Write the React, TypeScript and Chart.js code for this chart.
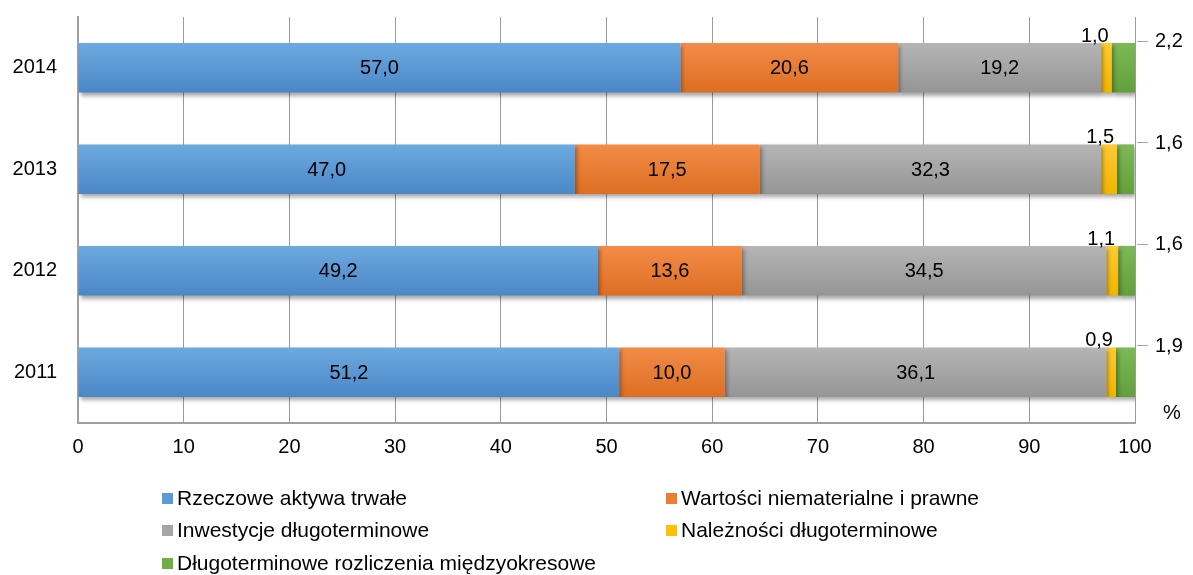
import React, { useEffect, useRef } from "react";
import { Chart, registerables } from "chart.js";

Chart.register(...registerables);

const categories = ["2014", "2013", "2012", "2011"];
const rzeczowe = [57.0, 47.0, 49.2, 51.2];
const wartosci = [20.6, 17.5, 13.6, 10.0];
const inwestycje = [19.2, 32.3, 34.5, 36.1];
const naleznosci = [1.0, 1.5, 1.1, 0.9];
const rozliczenia = [2.2, 1.6, 1.6, 1.9];

const seriesNames = [
  "Rzeczowe aktywa trwałe",
  "Wartości niematerialne i prawne",
  "Inwestycje długoterminowe",
  "Należności długoterminowe",
  "Długoterminowe rozliczenia międzyokresowe",
];
const seriesData = [rzeczowe, wartosci, inwestycje, naleznosci, rozliczenia];
const baseColors = ["#5B9BD5", "#ED7D31", "#A5A5A5", "#FFC000", "#70AD47"];
const topColors = ["#6DAAE0", "#F28C48", "#B5B5B5", "#FFCB33", "#7DB956"];
const bottomColors = ["#4A87C6", "#DD6E22", "#959595", "#F0B400", "#62A03B"];

const FONT = "'Liberation Sans', Arial, sans-serif";
const BAR_PCT = 0.49;

const fmt = (v: number) => v.toFixed(1).replace(".", ",");

function gradientFor(i: number) {
  return (c: any) => {
    const chart = c.chart;
    const y = chart.scales && chart.scales.y;
    if (!chart.chartArea || !y || c.dataIndex === undefined) return baseColors[i];
    const center = y.getPixelForValue(c.dataIndex);
    const half = ((chart.chartArea.bottom - chart.chartArea.top) / categories.length) * BAR_PCT / 2;
    const g = chart.ctx.createLinearGradient(0, center - half, 0, center + half);
    g.addColorStop(0, topColors[i]);
    g.addColorStop(1, bottomColors[i]);
    return g;
  };
}

const labelPlugin = {
  id: "labelsAndShadow",
  beforeDatasetsDraw(chart: any) {
    const ctx = chart.ctx;
    ctx.save();
    ctx.shadowColor = "rgba(0,0,0,0.35)";
    ctx.shadowBlur = 4;
    ctx.shadowOffsetX = 2;
    ctx.shadowOffsetY = 3;
  },
  afterDatasetsDraw(chart: any) {
    const ctx = chart.ctx;
    ctx.restore();
    const area = chart.chartArea;
    ctx.save();
    ctx.font = `20px ${FONT}`;
    ctx.fillStyle = "#000";
    chart.data.datasets.forEach((ds: any, di: number) => {
      const meta = chart.getDatasetMeta(di);
      meta.data.forEach((el: any, i: number) => {
        const v = ds.data[i];
        const top = el.y - el.height / 2;
        const right = Math.min(el.x, area.right);
        if (di <= 2) {
          ctx.textAlign = "center";
          ctx.textBaseline = "middle";
          ctx.fillText(fmt(v), (el.x + el.base) / 2, el.y + 1);
        } else if (di === 3) {
          ctx.textAlign = "right";
          ctx.textBaseline = "alphabetic";
          ctx.fillText(fmt(v), right - 3, top - 1);
        } else {
          const ly = top - 2;
          ctx.strokeStyle = "#A6A6A6";
          ctx.lineWidth = 1;
          ctx.beginPath();
          ctx.moveTo(area.right + 2, Math.round(ly) + 0.5);
          ctx.lineTo(area.right + 13, Math.round(ly) + 0.5);
          ctx.stroke();
          ctx.textAlign = "left";
          ctx.textBaseline = "middle";
          ctx.fillText(fmt(v), area.right + 20, ly + 1);
        }
      });
    });
    ctx.textAlign = "center";
    ctx.textBaseline = "middle";
    ctx.fillText("%", area.right + 37, area.bottom - 10);
    ctx.restore();
  },
};

export default function App() {
  const ref = useRef<HTMLCanvasElement | null>(null);
  useEffect(() => {
    if (!ref.current) return;
    const chart = new Chart(ref.current, {
      type: "bar",
      data: {
        labels: categories,
        datasets: seriesData.map((d, i) => ({
          label: seriesNames[i],
          data: d,
          backgroundColor: gradientFor(i),
          borderWidth: 0,
          barPercentage: BAR_PCT,
          categoryPercentage: 1,
        })),
      },
      options: {
        indexAxis: "y",
        animation: false,
        responsive: false,
        maintainAspectRatio: false,
        devicePixelRatio: 1,
        layout: { padding: { top: 17, right: 58, left: 0, bottom: 112 } },
        plugins: { legend: { display: false }, tooltip: { enabled: false } },
        scales: {
          x: {
            stacked: true,
            min: 0,
            max: 100,
            ticks: { stepSize: 10, color: "#000", font: { family: FONT, size: 20 }, padding: 12 },
            grid: { color: "#9A9A9A", drawTicks: false },
            border: { color: "#A0A0A0", width: 2 },
            afterFit: (s: any) => { s.height = 40; s.paddingLeft = 0; s.paddingRight = 0; },
          },
          y: {
            stacked: true,
            ticks: { color: "#000", font: { family: FONT, size: 20 }, padding: 21 },
            grid: { display: false, drawTicks: false },
            border: { color: "#A0A0A0", width: 2 },
            afterFit: (s: any) => { s.width = 78; s.paddingTop = 0; s.paddingBottom = 0; },
          },
        },
      } as any,
      plugins: [labelPlugin],
    });
    return () => chart.destroy();
  }, []);

  const legendPos = [
    { left: 162, top: 498 },
    { left: 666, top: 498 },
    { left: 162, top: 530 },
    { left: 666, top: 530 },
    { left: 162, top: 563 },
  ];

  return (
    <div style={{ position: "absolute", left: 0, top: 0, width: 1193, height: 575, background: "#fff" }}>
      <canvas ref={ref} width={1193} height={575} style={{ position: "absolute", left: 0, top: 0, width: 1193, height: 575 }} />
      {seriesNames.map((name, k) => (
        <div
          key={name}
          style={{
            position: "absolute",
            left: legendPos[k].left,
            top: legendPos[k].top - 13,
            height: 26,
            display: "flex",
            alignItems: "center",
            fontFamily: FONT,
            fontSize: 21,
            color: "#000",
            whiteSpace: "nowrap",
          }}
        >
          <span style={{ display: "inline-block", width: 11, height: 11, background: baseColors[k], marginRight: 4 }} />
          <span>{name}</span>
        </div>
      ))}
    </div>
  );
}
